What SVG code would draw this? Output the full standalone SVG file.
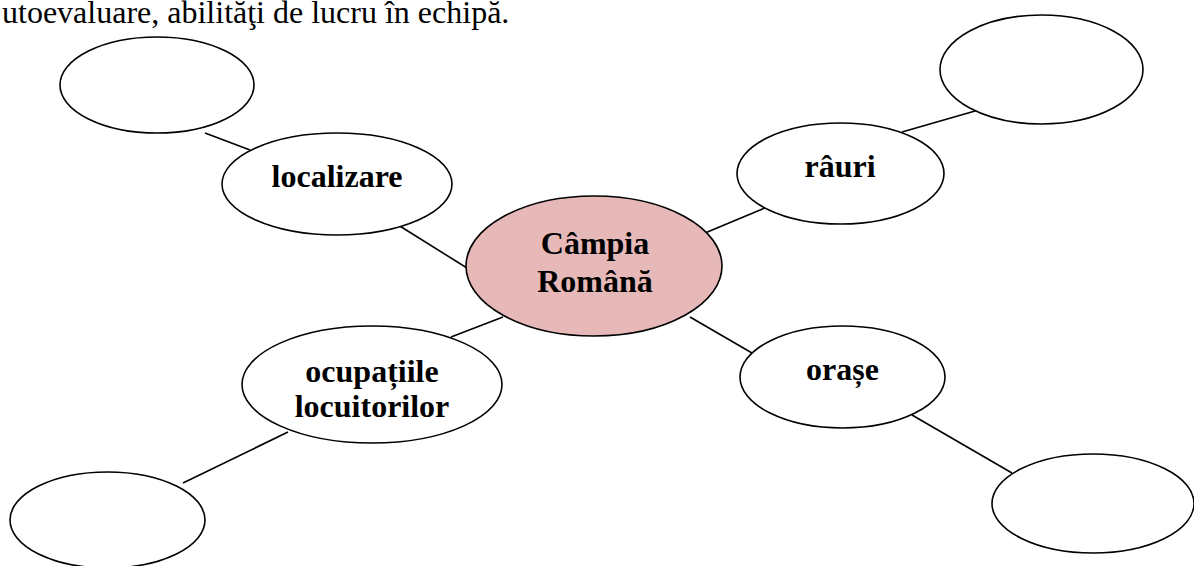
<svg xmlns="http://www.w3.org/2000/svg" width="1194" height="566" viewBox="0 0 1194 566">
<style>
.n{fill:#fff;stroke:#000;stroke-width:1.6}
.c{fill:#e6b8b7;stroke:#000;stroke-width:1.6}
.l{stroke:#000;stroke-width:1.6;fill:none}
.t{font-family:"Liberation Serif","Times New Roman",serif;font-weight:bold;font-size:32px;fill:#000;text-anchor:middle}
.h{font-family:"Liberation Serif","Times New Roman",serif;font-size:32px;fill:#000}
</style>
<rect width="1194" height="566" fill="#fff"/>
<text class="h" x="2" y="22.5">utoevaluare, abilităţi de lucru în echipă.</text>
<g id="connectors">
<line class="l" x1="205" y1="133" x2="250" y2="150"/>
<line class="l" x1="395" y1="223" x2="467" y2="268"/>
<line class="l" x1="705" y1="233" x2="767" y2="207"/>
<line class="l" x1="902" y1="132" x2="982" y2="109"/>
<line class="l" x1="451" y1="337" x2="503" y2="317"/>
<line class="l" x1="288" y1="432" x2="183" y2="483"/>
<line class="l" x1="690" y1="317" x2="752" y2="353"/>
<line class="l" x1="912" y1="415" x2="1012" y2="473"/>
</g>
<g id="empty-top-left"><ellipse class="n" cx="157" cy="85" rx="97" ry="48"/></g>
<g id="localizare"><ellipse class="n" cx="337" cy="184" rx="115" ry="51"/><text class="t" x="337" y="187">localizare</text></g>
<g id="center"><ellipse class="c" cx="594" cy="266" rx="128" ry="70"/><text class="t" x="595" y="254">Câmpia</text><text class="t" x="595" y="292">Română</text></g>
<g id="rauri"><ellipse class="n" cx="840.5" cy="173.5" rx="103.5" ry="50.5"/><text class="t" x="840" y="177">râuri</text></g>
<g id="empty-top-right"><ellipse class="n" cx="1041.5" cy="69.5" rx="101.5" ry="54.5"/></g>
<g id="ocupatiile"><ellipse class="n" cx="372" cy="384.5" rx="130" ry="58.5"/><text class="t" x="372" y="382">ocupațiile</text><text class="t" x="372" y="417">locuitorilor</text></g>
<g id="empty-bottom-left"><ellipse class="n" cx="107.5" cy="520" rx="97.5" ry="48"/></g>
<g id="orase"><ellipse class="n" cx="842.5" cy="377" rx="102.5" ry="51"/><text class="t" x="842.5" y="380">orașe</text></g>
<g id="empty-bottom-right"><ellipse class="n" cx="1093" cy="503.5" rx="101" ry="49.5"/></g>
</svg>
